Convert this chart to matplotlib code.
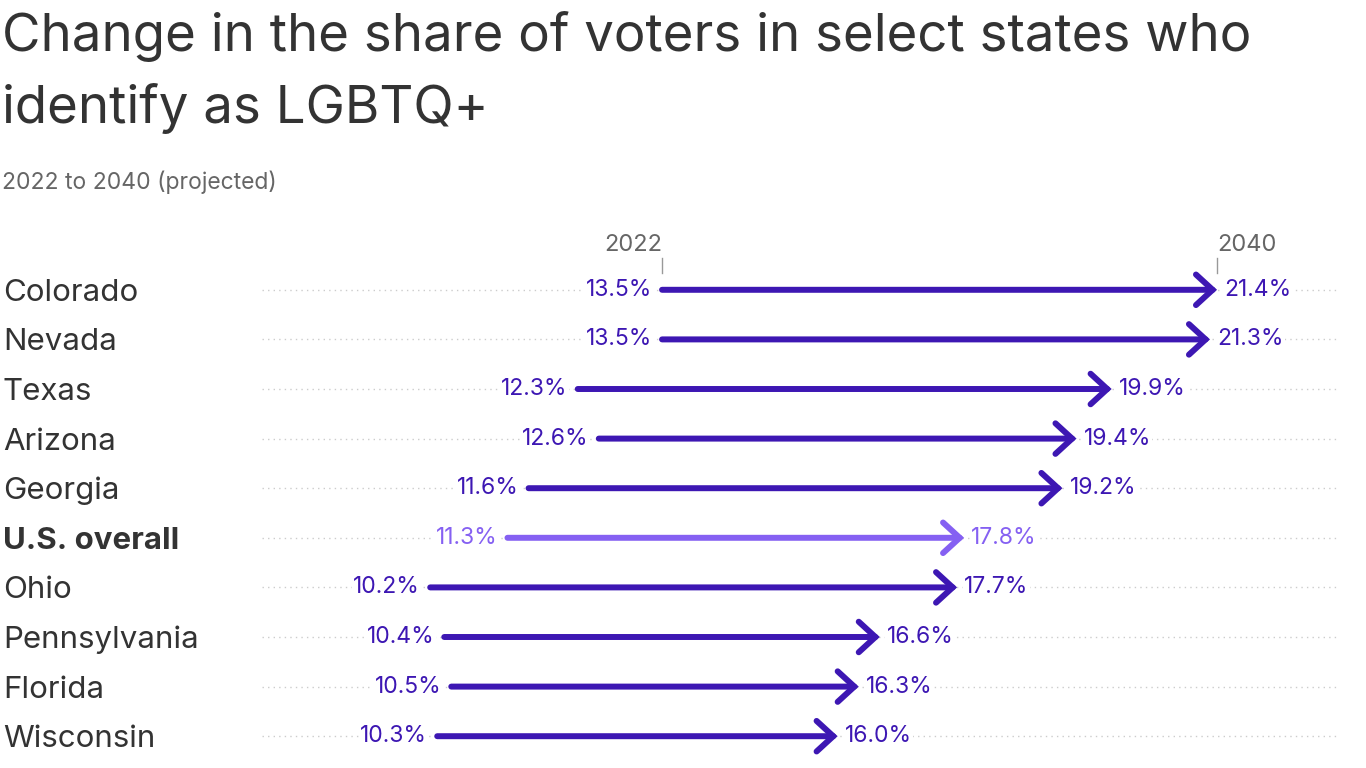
import matplotlib
matplotlib.use("Agg")
import matplotlib.pyplot as plt
import matplotlib.transforms as mtransforms

states = ["Colorado", "Nevada", "Texas", "Arizona", "Georgia", "U.S. overall",
          "Ohio", "Pennsylvania", "Florida", "Wisconsin"]
share_2022 = [13.5, 13.5, 12.3, 12.6, 11.6, 11.3, 10.2, 10.4, 10.5, 10.3]
share_2040 = [21.4, 21.3, 19.9, 19.4, 19.2, 17.8, 17.7, 16.6, 16.3, 16.0]
highlight = "U.S. overall"

dark = "#3d17b3"
light = "#8560f2"
grey = "#666666"
text_col = "#333333"

plt.rcParams['font.family'] = ['Inter', 'DejaVu Sans']

fig = plt.figure(figsize=(13.66, 7.68), dpi=100)
W, H = 1366, 768
ax = fig.add_axes([262 / W, 1 - 761 / H, (1340 - 262) / W, (761 - 265) / H])
ax.set_xlim(7.806, 23.15)
ax.set_ylim(len(states) - 0.5, -0.5)
ax.axis("off")

label_tr = mtransforms.offset_copy(
    mtransforms.blended_transform_factory(fig.transFigure, ax.transData),
    fig=fig, x=0, y=-3, units="dots")
off_left = mtransforms.offset_copy(ax.transData, fig=fig, x=-10, y=0, units="dots")
off_right = mtransforms.offset_copy(ax.transData, fig=fig, x=7, y=0, units="dots")

for i, (name, a, b) in enumerate(zip(states, share_2022, share_2040)):
    col = light if name == highlight else dark
    # dotted guide line
    ax.plot([7.806, 23.15], [i, i], color="#cccccc", lw=1, ls=(0, (1, 3)), zorder=1)
    ax.annotate("", xy=(b, i), xytext=(a, i),
                arrowprops=dict(arrowstyle="->,head_length=0.6,head_width=0.55",
                                color=col, lw=4.3, shrinkA=0, shrinkB=0,
                                mutation_scale=20, capstyle="round",
                                joinstyle="miter"),
                zorder=3)
    ax.text(a, i, f"{a:.1f}%", transform=off_left, ha="right", va="center",
            fontsize=16.5, color=col, zorder=4,
            bbox=dict(facecolor="white", edgecolor="none", pad=1))
    ax.text(b, i, f"{b:.1f}%", transform=off_right, ha="left", va="center",
            fontsize=16.5, color=col, zorder=4,
            bbox=dict(facecolor="white", edgecolor="none", pad=1))
    ax.text(3 / W, i, name, transform=label_tr, ha="left", va="center",
            fontsize=22.5, color=text_col,
            fontweight="bold" if name == highlight else "normal")

# year markers above the first row
top_tr = mtransforms.blended_transform_factory(ax.transData, fig.transFigure)
ax.plot([share_2022[0]] * 2, [1 - 258 / H, 1 - 273 / H], transform=top_tr,
        color="#999999", lw=1, clip_on=False)
ax.plot([share_2040[0]] * 2, [1 - 258 / H, 1 - 273 / H], transform=top_tr,
        color="#999999", lw=1, clip_on=False)
ax.text(share_2022[0], 1 - 245 / H, "2022", transform=top_tr, ha="right",
        va="center", fontsize=17, color=grey)
ax.text(share_2040[0], 1 - 245 / H, "2040", transform=top_tr, ha="left",
        va="center", fontsize=17, color=grey)

fig.text(2 / W, 1 - 37 / H, "Change in the share of voters in select states who",
         fontsize=38, color=text_col, va="center", ha="left")
fig.text(2 / W, 1 - 109 / H, "identify as LGBTQ+",
         fontsize=38, color=text_col, va="center", ha="left")
fig.text(2 / W, 1 - 182 / H, "2022 to 2040 (projected)",
         fontsize=16.5, color=grey, va="center", ha="left")

fig.savefig("out.png", dpi=100, facecolor="white")
